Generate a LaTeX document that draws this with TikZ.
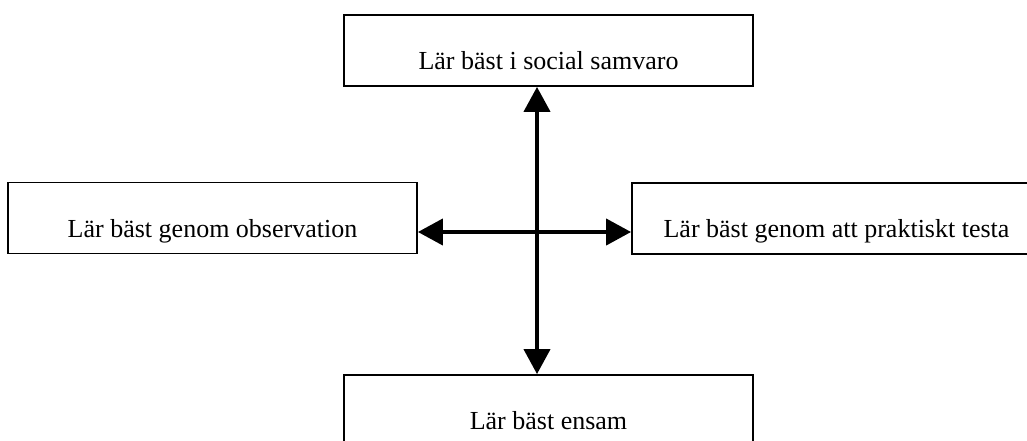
\documentclass[tikz,border=0pt]{standalone}
\usepackage{fontspec}
\setmainfont{Liberation Serif}
\usetikzlibrary{arrows.meta}
\begin{document}
\begin{tikzpicture}[x=1pt,y=-1pt,
  box/.style={draw=black,line width=1.8pt,minimum width=409pt,minimum height=71pt,inner sep=0pt,
    text height=38pt,text depth=0pt,font=\fontsize{26}{31}\selectfont},
  arr/.style={line width=4pt,{Triangle[length=25pt,width=26pt]}-{Triangle[length=25pt,width=26pt]}}]
\useasboundingbox (0,0) rectangle (1027,441);
\clip (0,0) rectangle (1027,441);
\node[box] (top) at (548.5,50.5) {Lär bäst i social samvaro};
\node[box] (left) at (212.5,218) {Lär bäst genom observation};
\node[box] (right) at (836.5,218.5) {Lär bäst genom att praktiskt testa};
\node[box] (bot) at (548.5,410.5) {Lär bäst ensam};
\coordinate (c) at (537,232);
\draw[arr] (top.south -| c) -- (bot.north -| c);
\draw[arr] (left.east |- c) -- (right.west |- c);
\end{tikzpicture}
\end{document}
